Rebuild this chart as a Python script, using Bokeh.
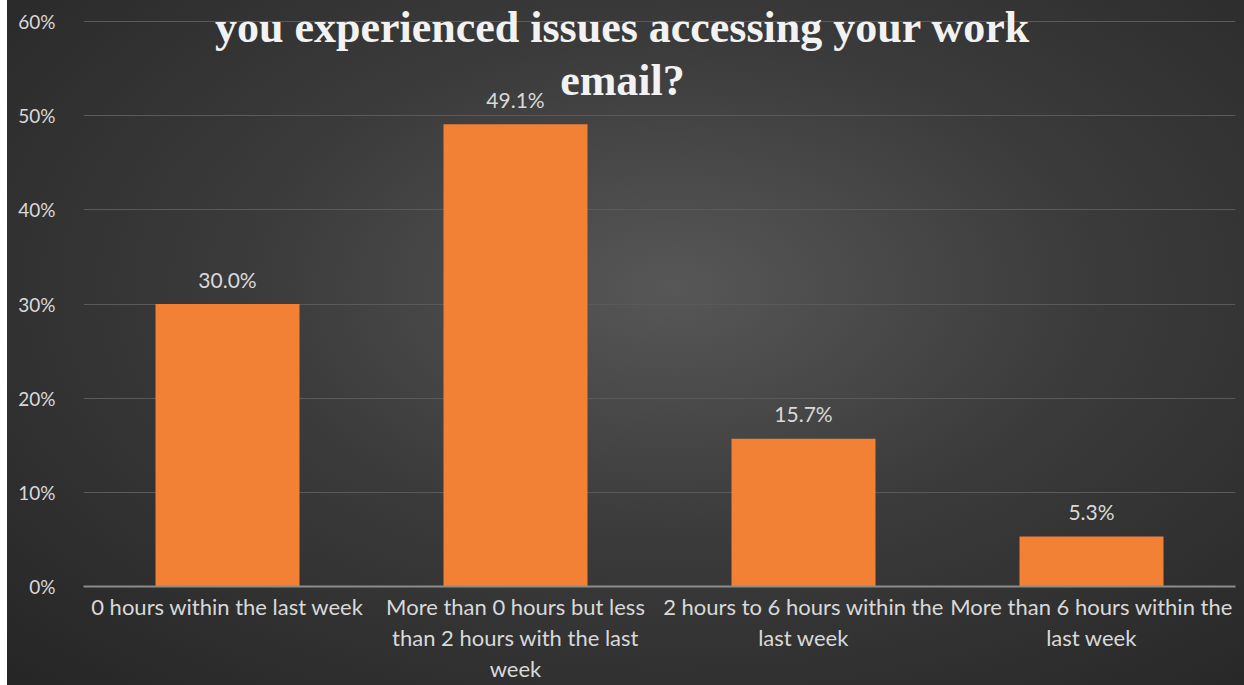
from bokeh.plotting import figure
from bokeh.models import ColumnDataSource, Label, FixedTicker
from bokeh.core.properties import value
from bokeh.embed import file_html
from bokeh.resources import INLINE

categories = [
    "0 hours within the last week",
    "More than 0 hours but less than 2 hours with the last week",
    "2 hours to 6 hours within the last week",
    "More than 6 hours within the last week",
]
wrapped_labels = [
    "0 hours within the last week",
    "More than 0 hours but less\nthan 2 hours with the last\nweek",
    "2 hours to 6 hours within the\nlast week",
    "More than 6 hours within the\nlast week",
]
percentages = [30.0, 49.1, 15.7, 5.3]
y_ticks = [0, 10, 20, 30, 40, 50, 60]
title_lines = ["you experienced issues accessing your work", "email?"]

positions = list(range(len(categories)))
src = ColumnDataSource(dict(
    x=positions,
    cat=categories,
    val=percentages,
    lab=[f"{v:.1f}%" for v in percentages],
))

# frame: x 83..1235, y 0..586 ; 60% gridline sits at y=21
px_per_pct = (586 - 21) / 60.0
y_top = 60 + 21 / px_per_pct

FONT = "Lato"

p = figure(
    width=1244, height=685,
    x_range=(-0.5, len(categories) - 0.5),
    y_range=(0, y_top),
    output_backend="svg", toolbar_location=None,
    min_border_left=83, min_border_right=9, min_border_top=0, min_border_bottom=99,
)
p.styles = {
    "background-image": "linear-gradient(to right, #ffffff 0px, #ffffff 7px, transparent 7px), "
                        "radial-gradient(ellipse 75% 80% at 54% 42%, #575757 0%, #3b3b3b 45%, #262626 100%)",
}
p.border_fill_alpha = 0
p.background_fill_alpha = 0
p.outline_line_color = None

p.vbar(x="x", top="val", width=0.5, source=src, fill_color="#F28035", line_color=None)

p.text(x="x", y="val", text="lab", source=src, text_align="center", text_baseline="middle",
       y_offset=-25, text_font=value(FONT), text_font_size="21px", text_color="#d9d9d9")

# axes
p.yaxis.ticker = FixedTicker(ticks=y_ticks)
p.yaxis.major_label_overrides = {t: f"{t}%" for t in y_ticks}
p.yaxis.axis_line_color = None
p.yaxis.major_tick_line_color = None
p.yaxis.minor_tick_line_color = None
p.yaxis.major_label_standoff = 22
p.yaxis.major_label_text_font = FONT
p.yaxis.major_label_text_font_size = "19px"
p.yaxis.major_label_text_color = "#d9d9d9"

p.xaxis.ticker = FixedTicker(ticks=positions)
p.xaxis.major_label_overrides = dict(zip(positions, wrapped_labels))
p.xaxis.axis_line_color = "#8c8c8c"
p.xaxis.axis_line_width = 2
p.xaxis.major_tick_line_color = None
p.xaxis.minor_tick_line_color = None
p.xaxis.major_label_standoff = 0
p.xaxis.major_label_text_font = FONT
p.xaxis.major_label_text_font_size = "22px"
p.xaxis.major_label_text_color = "#d9d9d9"
p.xaxis.major_label_text_line_height = 1.15

p.xgrid.grid_line_color = None
p.ygrid.ticker = FixedTicker(ticks=y_ticks)
p.ygrid.grid_line_color = "#5a5a5a"
p.ygrid.grid_line_width = 1

# title (its first line is cut off in the reference)
tx = (622 - 83) / 288.0 - 0.5
for line, ypx in zip(title_lines, [27, 80]):
    p.add_layout(Label(x=tx, y=(586 - ypx) / px_per_pct, text=line,
                       text_align="center", text_baseline="middle",
                       text_font="Liberation Serif", text_font_style="bold",
                       text_font_size="44px", text_color="#f2f2f2", level="overlay"))

open("out.html", "w").write(file_html(p, INLINE))
